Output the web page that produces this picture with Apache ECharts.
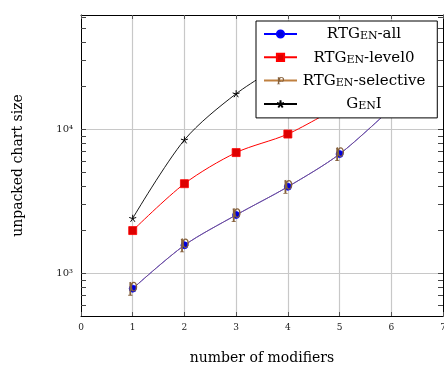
<!DOCTYPE html>
<html>
<head>
<meta charset="utf-8">
<script src="https://cdn.jsdelivr.net/npm/echarts@6.0.0/dist/echarts.min.js"></script>
<style>
html, body { margin: 0; padding: 0; background: #fff; }
#chart { width: 444px; height: 365px; }
</style>
</head>
<body>
<div id="chart"></div>
<script>
// number of modifiers
var modifiers = [1, 2, 3, 4, 5, 6];
// unpacked chart size per series
var rtgenAll = [782, 1565, 2540, 3990, 6730, 14000];
var rtgenLevel0 = [1980, 4190, 6890, 9270, 14500];
var rtgenSelective = [782, 1565, 2540, 3990, 6730, 14000];
var genI = [2410, 8440, 17660, 30000];

var seriesNames = ['RTGen-all', 'RTGen-level0', 'RTGen-selective', 'GenI'];
var yMajorTicks = [1000, 10000];
var yMajorLabels = ['10³', '10⁴'];
var yMinorTicks = [600, 700, 800, 900, 2000, 3000, 4000, 5000, 6000, 7000, 8000, 9000,
	20000, 30000, 40000, 50000, 60000];

var serif = 'DejaVu Serif';
var pSymbol = 'path://M37,1 A23,35 0 1,1 37,71 A23,35 0 1,1 37,1 Z M38,10 A12,26 0 1,0 38,62 A12,26 0 1,0 38,10 Z M6,6 L20,0 L20,94 L28,94 L28,100 L0,100 L0,94 L8,94 L8,10 L6,10 Z';
var starSymbol = 'path://M10,0 L10,10 M19.5,6.9 L10,10 M15.9,18.1 L10,10 M4.1,18.1 L10,10 M0.5,6.9 L10,10';

function pairs(vals) {
	var out = [];
	for (var i = 0; i < vals.length; i++) {
		out.push([modifiers[i], vals[i]]);
	}
	return out;
}

// legend text with small caps "EN"
var legendText = {
	'RTGen-all': '{a|RTG}{b|EN}{a|-all}',
	'RTGen-level0': '{a|RTG}{b|EN}{a|-level0}',
	'RTGen-selective': '{a|RTG}{b|EN}{a|-selective}',
	'GenI': '{a|G}{b|EN}{a|I}'
};

var yMin = 505, yMax = 62200;

var chart = echarts.init(document.getElementById('chart'));
var option = {
	animation: false,
	backgroundColor: '#fff',
	grid: { left: 81, right: 1, top: 15, bottom: 49, outerBoundsMode: 'none', containLabel: false },
	legend: {
		orient: 'vertical',
		left: 256,
		top: 21,
		selectedMode: false,
		backgroundColor: '#fff',
		borderColor: '#000',
		borderWidth: 1,
		borderRadius: 0,
		padding: [6, 12, 6, 7],
		itemWidth: 33,
		itemHeight: 9,
		itemGap: 8.3,
		data: [
			{ name: seriesNames[0] },
			{ name: seriesNames[1] },
			{ name: seriesNames[2], lineStyle: { opacity: 1 } },
			{ name: seriesNames[3] }
		],
		formatter: function(n) { return legendText[n]; },
		textStyle: {
			width: 124,
			rich: {
				a: { fontFamily: serif, fontSize: 15, lineHeight: 16, color: '#000', align: 'center', verticalAlign: 'bottom' },
				b: { fontFamily: serif, fontSize: 11, lineHeight: 16, color: '#000', align: 'center', verticalAlign: 'bottom' }
			}
		}
	},
	xAxis: [{
		type: 'value',
		position: 'bottom',
		min: 0,
		max: 7,
		interval: 1,
		name: 'number of modifiers',
		nameLocation: 'middle',
		nameGap: 35,
		nameTextStyle: { fontFamily: serif, fontSize: 14, color: '#000' },
		axisLine: { show: true, lineStyle: { color: '#000', width: 1 } },
		axisTick: { show: true, inside: true, length: 4, lineStyle: { color: '#555' } },
		axisLabel: { fontFamily: serif, fontSize: 9, color: '#222', margin: 7 },
		splitLine: { show: true, showMinLine: false, showMaxLine: false, lineStyle: { color: '#c8c8c8', width: 1.2 } }
	}, {
		type: 'value',
		position: 'top',
		min: 0,
		max: 7,
		interval: 1,
		axisLine: { show: true, lineStyle: { color: '#000', width: 1 } },
		axisTick: { show: true, inside: true, length: 4, lineStyle: { color: '#555' } },
		axisLabel: { show: false },
		splitLine: { show: false }
	}],
	yAxis: [{
		type: 'log',
		logBase: 10,
		position: 'left',
		min: yMin,
		max: yMax,
		name: 'unpacked chart size',
		nameLocation: 'middle',
		nameGap: 56,
		nameTextStyle: { fontFamily: serif, fontSize: 14, color: '#000' },
		axisLine: { show: true, lineStyle: { color: '#000', width: 1 } },
		axisTick: { show: false },
		axisLabel: {
			customValues: yMajorTicks,
			fontFamily: serif,
			fontSize: 10,
			color: '#222',
			margin: 8,
			formatter: function(v) {
				var i = yMajorTicks.indexOf(v);
				return i >= 0 ? yMajorLabels[i] : '';
			}
		},
		splitLine: { show: true, showMinLine: false, showMaxLine: false, lineStyle: { color: '#c8c8c8', width: 1.2 } }
	}, {
		type: 'log',
		logBase: 10,
		position: 'left',
		min: yMin,
		max: yMax,
		axisLine: { show: false },
		axisTick: { show: true, inside: true, length: 5, customValues: yMinorTicks.concat(yMajorTicks), lineStyle: { color: '#444' } },
		axisLabel: { show: false },
		splitLine: { show: false }
	}, {
		type: 'log',
		logBase: 10,
		position: 'right',
		min: yMin,
		max: yMax,
		axisLine: { show: true, lineStyle: { color: '#000', width: 1 } },
		axisTick: { show: true, inside: true, length: 5, customValues: yMinorTicks.concat(yMajorTicks), lineStyle: { color: '#444' } },
		axisLabel: { show: false },
		splitLine: { show: false }
	}],
	series: [{
		name: seriesNames[0],
		type: 'line',
		data: pairs(rtgenAll),
		smooth: 0.3,
		symbol: 'circle',
		symbolSize: 7,
		itemStyle: { color: '#0000d8', borderColor: '#0000ff', borderWidth: 0.8 },
		lineStyle: { color: '#0000ff', width: 1 }
	}, {
		name: seriesNames[1],
		type: 'line',
		data: pairs(rtgenLevel0),
		smooth: 0.3,
		symbol: 'rect',
		symbolSize: 8,
		itemStyle: { color: '#dd0000', borderColor: '#ff0000', borderWidth: 0.8 },
		lineStyle: { color: '#ff0000', width: 1 }
	}, {
		name: seriesNames[2],
		type: 'line',
		data: pairs(rtgenSelective),
		smooth: 0.3,
		symbol: pSymbol,
		symbolSize: [9, 14],
		itemStyle: { color: '#86613c' },
		lineStyle: { color: '#bf8040', width: 1, opacity: 0.6 }
	}, {
		name: seriesNames[3],
		type: 'line',
		data: pairs(genI),
		smooth: 0.3,
		symbol: starSymbol,
		symbolSize: 7,
		itemStyle: { color: '#000', borderColor: '#000', borderWidth: 1 },
		lineStyle: { color: '#000', width: 0.9 }
	}]
};
chart.setOption(option);
</script>
</body>
</html>
